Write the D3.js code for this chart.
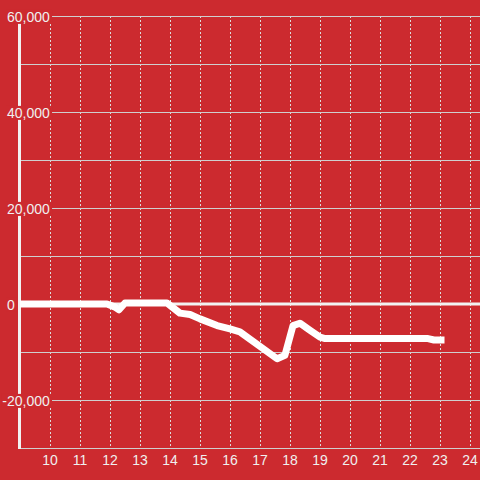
<!DOCTYPE html>
<html><head><meta charset="utf-8">
<script src="https://cdn.jsdelivr.net/npm/d3@7"></script>
<style>html,body{margin:0;padding:0;background:#cc2a2f;}svg{display:block;}</style>
</head><body>
<script>
const hours = [9, 11.9, 12.15, 12.3, 12.5, 13.9, 14.33, 14.67, 15, 15.57, 16, 16.33, 17.57, 17.83, 18.1, 18.33, 18.67, 19, 19.17, 22.6, 22.8, 23.15];
const values = [0, 0, -600, -1200, 200, 200, -1900, -2200, -3100, -4500, -5200, -5800, -11400, -10700, -4500, -4000, -5500, -6900, -7200, -7200, -7500, -7500];
const yTicks = [-30000, -20000, -10000, 0, 10000, 20000, 30000, 40000, 50000, 60000];
const yLabelTicks = [-20000, 0, 20000, 40000, 60000];
const xTicks = [10, 11, 12, 13, 14, 15, 16, 17, 18, 19, 20, 21, 22, 23, 24];

const W = 480, H = 480;
const x = d3.scaleLinear().domain([9, 25]).range([20, 500]);
const y = d3.scaleLinear().domain([-30000, 60000]).range([448, 16]);
const fmt = d3.format(",");
const FONT = "Liberation Sans, Arial, sans-serif";

const svg = d3.select("body").append("svg").attr("width", W).attr("height", H);
svg.append("rect").attr("width", W).attr("height", H).attr("fill", "#cc2a2f");

// vertical dotted grid
svg.append("g").selectAll("line").data(xTicks).join("line")
  .attr("x1", d => x(d) + 0.5).attr("x2", d => x(d) + 0.5)
  .attr("y1", y(60000)).attr("y2", y(-30000))
  .attr("stroke", "#dcdcdc").attr("stroke-width", 1).attr("stroke-dasharray", "2,2");

// horizontal grid
svg.append("g").selectAll("line").data(yTicks.filter(d => d !== 0)).join("line")
  .attr("x1", 20).attr("x2", W)
  .attr("y1", d => y(d) + 0.5).attr("y2", d => y(d) + 0.5)
  .attr("stroke", "#cfcfcf").attr("stroke-width", 1);

// zero line
svg.append("line").attr("x1", 18).attr("x2", W)
  .attr("y1", y(0)).attr("y2", y(0))
  .attr("stroke", "#f2f2f2").attr("stroke-width", 3);

// y axis line
svg.append("line").attr("x1", 19.5).attr("x2", 19.5)
  .attr("y1", y(60000)).attr("y2", y(-30000) + 1)
  .attr("stroke", "#f2f2f2").attr("stroke-width", 3);

// y labels with background
const yl = svg.append("g").selectAll("g").data(yLabelTicks).join("g")
  .attr("transform", d => `translate(7,${y(d) + 1})`);
yl.append("text")
  .attr("text-anchor", "start").attr("dy", "0.35em")
  .attr("font-family", FONT).attr("font-size", 14)
  .attr("fill", "#f0f0f0").text(d => fmt(d).replace("−", "-"))
  .each(function (d) {
    const t = d3.select(this);
    if (d < 0) {
      const w = this.getSubStringLength(0, 1);
      t.attr("x", -w);
    }
    const b = this.getBBox();
    d3.select(this.parentNode).insert("rect", "text")
      .attr("x", b.x - 1).attr("y", b.y + 1).attr("width", b.width + 3).attr("height", b.height - 2)
      .attr("fill", "#cc2a2f");
  });

// data line
const line = d3.line().x((d, i) => x(hours[i])).y(d => y(d));
svg.append("path").datum(values)
  .attr("d", line).attr("fill", "none")
  .attr("stroke", "#ffffff").attr("stroke-width", 7)
  .attr("stroke-linejoin", "round").attr("stroke-linecap", "butt");

// x labels
svg.append("g").selectAll("text").data(xTicks).join("text")
  .attr("x", d => x(d)).attr("y", 460).attr("dy", "0.35em")
  .attr("text-anchor", "middle")
  .attr("font-family", FONT).attr("font-size", 14)
  .attr("fill", "#f0f0f0").text(d => d);
</script>
</body></html>
